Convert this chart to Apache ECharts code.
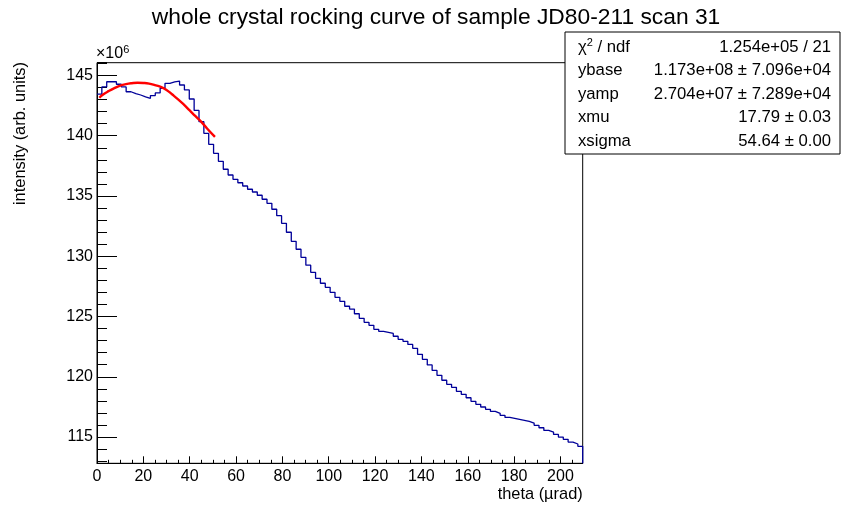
<!DOCTYPE html>
<html>
<head>
<meta charset="utf-8">
<title>whole crystal rocking curve of sample JD80-211 scan 31</title>
<script src="https://cdn.jsdelivr.net/npm/echarts@6/dist/echarts.min.js"></script>
<style>
  html, body { margin: 0; padding: 0; background: #fff; }
  #chart { width: 862px; height: 516px; }
</style>
</head>
<body>
<div id="chart"></div>
<script>
// histogram: 100 bins starting at 0 urad, intensity in units of 1e6
var binLow = 0;
var binWidth = 2.096;
var counts = [
  143.45, 144.05, 144.48, 144.48, 144.27, 144.05, 143.65, 143.50, 143.38, 143.22,
  143.10, 143.33, 143.55, 143.94, 144.35, 144.46, 144.54, 144.21, 143.80, 143.05,
  142.10, 141.17, 140.20, 139.29, 138.54, 137.88, 137.22, 136.74, 136.38, 136.10,
  135.83, 135.56, 135.33, 135.06, 134.73, 134.39, 133.90, 133.37, 132.73, 131.99,
  131.24, 130.58, 129.91, 129.26, 128.67, 128.17, 127.76, 127.42, 127.01, 126.59,
  126.26, 125.85, 125.62, 125.23, 124.85, 124.52, 124.27, 123.94, 123.77, 123.69,
  123.60, 123.36, 123.11, 122.94, 122.68, 122.36, 121.86, 121.45, 120.98, 120.53,
  120.12, 119.71, 119.37, 119.12, 118.79, 118.54, 118.26, 117.96, 117.71, 117.49,
  117.30, 117.13, 116.97, 116.80, 116.63, 116.55, 116.47, 116.39, 116.30, 116.16,
  115.97, 115.77, 115.55, 115.41, 115.22, 115.00, 114.81, 114.58, 114.42, 114.23
];

// red fit curve
var fitX = [1.0, 2.5, 5.0, 7.5, 10.0, 12.5, 15.0, 17.5, 20.0, 22.5, 25.0,
            27.5, 30.0, 32.5, 35.0, 37.5, 40.0, 42.5, 45.0, 47.5, 50.9];
var fitY = [143.15, 143.40, 143.70, 143.95, 144.15, 144.28, 144.36, 144.40, 144.38, 144.32, 144.20,
            144.05, 143.80, 143.42, 143.02, 142.58, 142.10, 141.62, 141.15, 140.60, 139.90];

// stats box
var chiText = "1.254e+05 / 21";
var parNames = ["ybase", "yamp", "xmu", "xsigma"];
var parValues = ["1.173e+08 \u00b1 7.096e+04", "2.704e+07 \u00b1 7.289e+04",
                 "17.79 \u00b1 0.03", "54.64 \u00b1 0.00"];

// axis ranges and tick steps
var xMin = 0, xMax = 209.6, xMajor = 20, xMinor = 5;
var yMin = 112.82, yMax = 146.06;

(function () {
  var myChart = echarts.init(document.getElementById("chart"));
  var font = "Liberation Sans, Arial, Helvetica, sans-serif";

  // histogram outline as a step line (lower bin edges + closing point at the right)
  var histPts = [];
  for (var i = 0; i < counts.length; i++) {
    histPts.push([binLow + i * binWidth, counts[i]]);
  }
  var xEnd = binLow + counts.length * binWidth;
  histPts.push([xEnd, counts[counts.length - 1]]);
  histPts.push([xEnd, yMin]);

  var fitPts = fitX.map(function (x, k) { return [x, fitY[k]]; });

  // stats box
  var boxLeft = 565, boxTop = 32, boxW = 275, boxH = 122, rowH = 23.5;
  var statFont = "16.7px " + font;
  var statEls = [
    {
      type: "rect", z: 10,
      shape: { x: boxLeft, y: boxTop, width: boxW, height: boxH },
      style: { fill: "#fff", stroke: "#000", lineWidth: 1 }
    },
    {
      type: "text", z: 11, x: 578, y: boxTop + 15,
      style: {
        text: "{a|\u03c7}{s|2}{a| / ndf}",
        verticalAlign: "middle",
        rich: {
          a: { fontSize: 16.7, fontFamily: font, fill: "#000", lineHeight: 20 },
          s: { fontSize: 11, fontFamily: font, fill: "#000", verticalAlign: "top", lineHeight: 20 }
        }
      }
    },
    {
      type: "text", z: 11, x: 831, y: boxTop + 15,
      style: { text: chiText, font: statFont, fill: "#000", align: "right", verticalAlign: "middle" }
    }
  ];
  parNames.forEach(function (n, k) {
    var y = boxTop + 15 + (k + 1) * rowH;
    statEls.push({
      type: "text", z: 11, x: 578, y: y,
      style: { text: n, font: statFont, fill: "#000", align: "left", verticalAlign: "middle" }
    });
    statEls.push({
      type: "text", z: 11, x: 831, y: y,
      style: { text: parValues[k], font: statFont, fill: "#000", align: "right", verticalAlign: "middle" }
    });
  });

  var option = {
    animation: false,
    backgroundColor: "#fff",
    grid: {
      left: 97, top: 62.7, right: 279.3, bottom: 52.7,
      show: true, borderColor: "#000", borderWidth: 1
    },
    xAxis: [
      {
        type: "value", min: xMin, max: xMax, interval: xMajor,
        axisLine: { lineStyle: { color: "#000", width: 1 } },
        axisTick: { inside: true, length: 7, lineStyle: { color: "#000" } },
        axisLabel: { color: "#000", fontSize: 16, fontFamily: font, margin: 5, showMaxLabel: false },
        splitLine: { show: false }
      },
      {
        // minor ticks
        type: "value", min: xMin, max: xMax, interval: xMinor, position: "bottom",
        axisLine: { show: false },
        axisTick: { inside: true, length: 3.5, lineStyle: { color: "#000" } },
        axisLabel: { show: false },
        splitLine: { show: false }
      }
    ],
    yAxis: [
      {
        type: "value", min: yMin, max: yMax, splitNumber: 6,
        axisLine: { show: true, lineStyle: { color: "#000", width: 1 } },
        axisTick: { show: true, inside: true, length: 20, lineStyle: { color: "#000" } },
        axisLabel: { color: "#000", fontSize: 16, fontFamily: font, margin: 4,
                     showMinLabel: false, showMaxLabel: false },
        splitLine: { show: false }
      },
      {
        // minor ticks
        type: "value", min: yMin, max: yMax, splitNumber: 30, position: "left",
        axisLine: { show: false },
        axisTick: { show: true, inside: true, length: 10, lineStyle: { color: "#000" } },
        axisLabel: { show: false },
        splitLine: { show: false }
      }
    ],
    series: [
      {
        name: "histogram", type: "line", step: "end",
        xAxisIndex: 0, yAxisIndex: 0,
        data: histPts, symbol: "none",
        lineStyle: { color: "#000099", width: 1.3 }
      },
      {
        name: "fit", type: "line", smooth: true,
        xAxisIndex: 0, yAxisIndex: 0,
        data: fitPts, symbol: "none",
        lineStyle: { color: "#ff0000", width: 2.4 }
      }
    ],
    graphic: [
      {
        type: "text", x: 436, y: 18,
        style: { text: "whole crystal rocking curve of sample JD80-211 scan 31",
                 font: "22.8px " + font, fill: "#000", align: "center", verticalAlign: "middle" }
      },
      {
        type: "text", x: 96, y: 54,
        style: {
          text: "{a|\u00d710}{s|6}",
          verticalAlign: "middle",
          rich: {
            a: { fontSize: 16, fontFamily: font, fill: "#000", lineHeight: 20 },
            s: { fontSize: 11, fontFamily: font, fill: "#000", verticalAlign: "top", lineHeight: 20 }
          }
        }
      },
      {
        type: "text", x: 20, y: 62, rotation: Math.PI / 2,
        style: { text: "intensity (arb. units)", font: "16.4px " + font, fill: "#000",
                 align: "right", verticalAlign: "middle" }
      },
      {
        type: "text", x: 582.7, y: 494,
        style: { text: "theta (\u00b5rad)", font: "16.4px " + font, fill: "#000",
                 align: "right", verticalAlign: "middle" }
      }
    ].concat(statEls)
  };

  myChart.setOption(option);
  window.addEventListener("resize", function () {
    myChart.resize();
  });
})();
</script>
</body>
</html>
